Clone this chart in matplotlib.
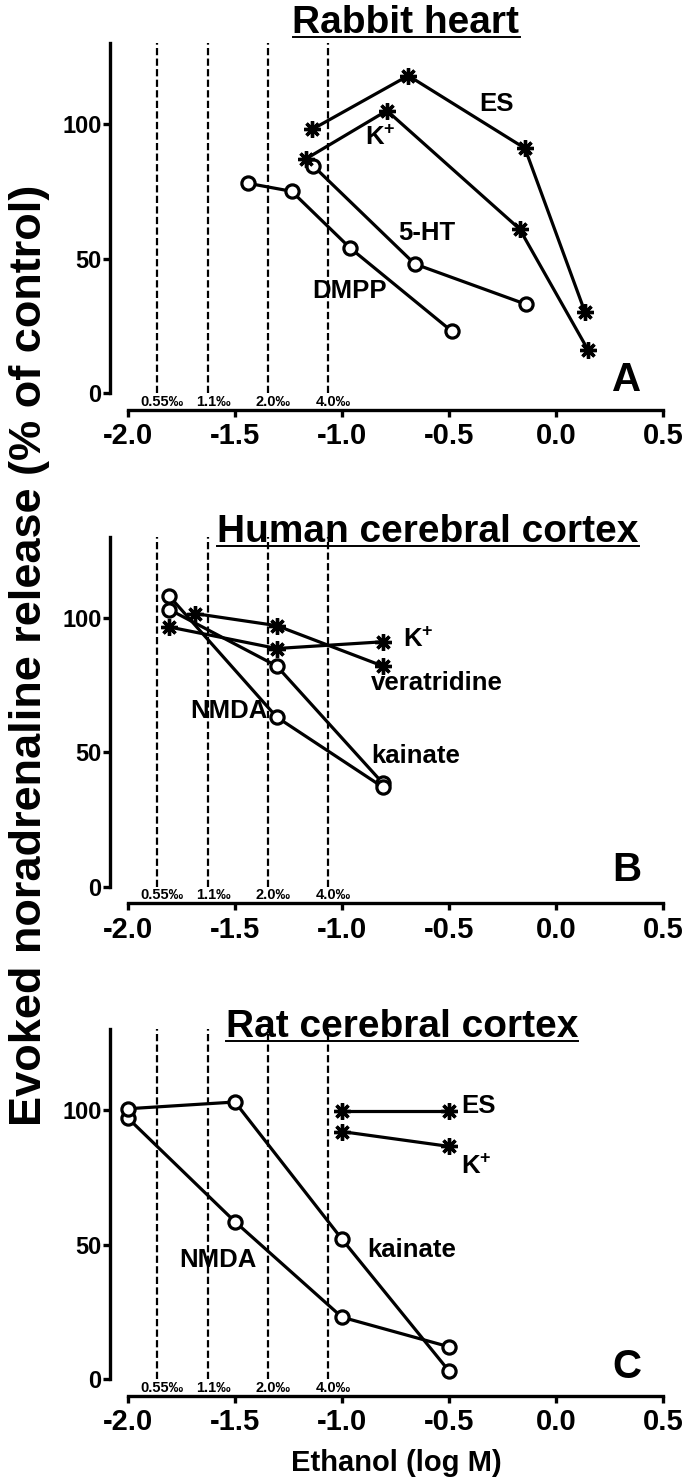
import numpy as np
import matplotlib
matplotlib.use('Agg')
from matplotlib import pyplot as plt
from matplotlib.lines import Line2D

plt.rcParams['font.family'] = ['Liberation Sans', 'DejaVu Sans']
plt.rcParams['font.weight'] = 'bold'
plt.rcParams['mathtext.fontset'] = 'custom'
plt.rcParams['mathtext.rm'] = 'Liberation Sans:bold'
plt.rcParams['mathtext.it'] = 'Liberation Sans:bold'
plt.rcParams['mathtext.bf'] = 'Liberation Sans:bold'
plt.rcParams['lines.scale_dashes'] = False

# axes ticks
x_ticks = [-2.0, -1.5, -1.0, -0.5, 0.0, 0.5]
x_tick_labels = ['-2.0', '-1.5', '-1.0', '-0.5', '0.0', '0.5']
y_ticks = [0, 50, 100]
y_tick_labels = ['0', '50', '100']

# ethanol concentration markers (log M)
ethanol_lines = [-1.865, -1.625, -1.347, -1.067]
ethanol_labels = ['0.55‰', '1.1‰', '2.0‰', '4.0‰']

# A - rabbit heart
rab_es_x = [-1.14, -0.69, -0.145, 0.136]
rab_es_y = [98, 118, 91, 30]
rab_k_x = [-1.17, -0.79, -0.17, 0.15]
rab_k_y = [87, 105, 61, 16]
rab_5ht_x = [-1.135, -0.66, -0.14]
rab_5ht_y = [84.5, 48, 33]
rab_dmpp_x = [-1.44, -1.235, -0.963, -0.487]
rab_dmpp_y = [78, 75, 54, 23]

# B - human cerebral cortex
hum_k_x = [-1.807, -1.305, -0.81]
hum_k_y = [96.5, 88.5, 91]
hum_ver_x = [-1.687, -1.305, -0.81]
hum_ver_y = [101.5, 97, 82]
hum_nmda_x = [-1.807, -1.305, -0.81]
hum_nmda_y = [108, 63, 37]
hum_kain_x = [-1.807, -1.305, -0.81]
hum_kain_y = [103, 82, 38.5]

# C - rat cerebral cortex
rat_kain_x = [-2.0, -1.5, -1.0, -0.5]
rat_kain_y = [100.5, 103, 52, 3]
rat_nmda_x = [-2.0, -1.5, -1.0, -0.5]
rat_nmda_y = [97, 58.5, 23, 12]
rat_es_x = [-1.0, -0.5]
rat_es_y = [99.5, 99.5]
rat_k_x = [-1.0, -0.5]
rat_k_y = [92, 86.5]

W, H = 685, 1483
fig = plt.figure(figsize=(W / 100, H / 100), dpi=100)

left = 110 / W
width = 559.4 / W
ax_h = 369.3 / H

K_PLUS = r'$\mathbf{K}^{+}$'


def make_axes(axis_px):
    ax = fig.add_axes([left, 1 - axis_px / H, width, ax_h])
    ax.set_xlim(-2.084, 0.53)
    ax.set_ylim(-6.3, 131)
    ax.spines['top'].set_visible(False)
    ax.spines['right'].set_visible(False)
    ax.spines['left'].set_bounds(0, 130)
    ax.spines['bottom'].set_bounds(-2.0, 0.5)
    ax.spines['left'].set_linewidth(2.4)
    ax.spines['bottom'].set_linewidth(2.4)
    ax.set_xticks(x_ticks)
    ax.set_xticklabels(x_tick_labels, fontsize=21, fontweight='bold')
    ax.set_yticks(y_ticks)
    ax.set_yticklabels(y_tick_labels, fontsize=17, fontweight='bold')
    ax.tick_params(axis='both', width=2.4, length=5, direction='out')
    ax.tick_params(axis='x', pad=4)
    ax.tick_params(axis='y', pad=1)
    ax.patch.set_visible(False)
    ax.vlines(ethanol_lines, 0, 130, colors='black', linestyles=(0, (5.2, 2.4)),
              lw=1.6, zorder=1)
    for xv, lab in zip(ethanol_lines, ethanol_labels):
        ax.text(xv + 0.025, -3.3, lab, fontsize=10.5, ha='center', va='center')
    return ax


def star_line(ax, xs, ys):
    ax.plot(xs, ys, color='black', lw=2.3, marker=(8, 2, 0), ms=12, mew=2.4,
            mec='black', zorder=3, clip_on=False)


def circle_line(ax, xs, ys):
    ax.plot(xs, ys, color='black', lw=2.3, marker='o', ms=9.5, mew=2.3,
            mfc='white', mec='black', zorder=3, clip_on=False)


def note(ax, x, y, s, size=18.5):
    ax.text(x, y, s, fontsize=size, ha='center', va='center', zorder=4)


# panel A
axA = make_axes(410)
circle_line(axA, rab_dmpp_x, rab_dmpp_y)
circle_line(axA, rab_5ht_x, rab_5ht_y)
star_line(axA, rab_k_x, rab_k_y)
star_line(axA, rab_es_x, rab_es_y)
note(axA, -0.28, 107.5, 'ES')
note(axA, -0.822, 95, K_PLUS)
note(axA, -0.604, 59.5, '5-HT')
note(axA, -0.963, 38, 'DMPP')
note(axA, 0.33, 5, 'A', 29)

# panel B
axB = make_axes(903.5)
circle_line(axB, hum_kain_x, hum_kain_y)
circle_line(axB, hum_nmda_x, hum_nmda_y)
star_line(axB, hum_ver_x, hum_ver_y)
star_line(axB, hum_k_x, hum_k_y)
note(axB, -0.645, 91.6, K_PLUS)
note(axB, -0.556, 75.6, 'veratridine')
note(axB, -1.53, 65.2, 'NMDA')
note(axB, -0.654, 48.5, 'kainate')
note(axB, 0.33, 6, 'B', 29)

# panel C
axC = make_axes(1396)
circle_line(axC, rat_nmda_x, rat_nmda_y)
circle_line(axC, rat_kain_x, rat_kain_y)
star_line(axC, rat_es_x, rat_es_y)
star_line(axC, rat_k_x, rat_k_y)
note(axC, -0.363, 101.7, 'ES')
note(axC, -0.371, 78.9, K_PLUS)
note(axC, -0.674, 48, 'kainate')
note(axC, -1.578, 44.3, 'NMDA')
note(axC, 0.33, 4.5, 'C', 29)

# titles, underlined
titles = [('Rabbit heart', 406, 33), ('Human cerebral cortex', 428, 542),
          ('Rat cerebral cortex', 402, 1037)]
title_objs = []
for s, cx, base in titles:
    t = fig.text(cx / W, 1 - base / H, s, fontsize=28, ha='center', va='baseline')
    title_objs.append((t, base))

fig.text(30 / W, 1 - 655 / H, 'Evoked noradrenaline release (% of control)',
         fontsize=32.5, rotation=90, ha='center', va='center')
fig.text(396 / W, 1 - 1463 / H, 'Ethanol (log M)', fontsize=21,
         ha='center', va='center')

fig.canvas.draw()
r = fig.canvas.get_renderer()
for t, base in title_objs:
    bb = t.get_window_extent(r)
    y = 1 - (base + 4) / H
    fig.add_artist(Line2D([bb.x0 / W, bb.x1 / W], [y, y], color='black', lw=1.4,
                          transform=fig.transFigure))

fig.savefig('out.png', dpi=100)
